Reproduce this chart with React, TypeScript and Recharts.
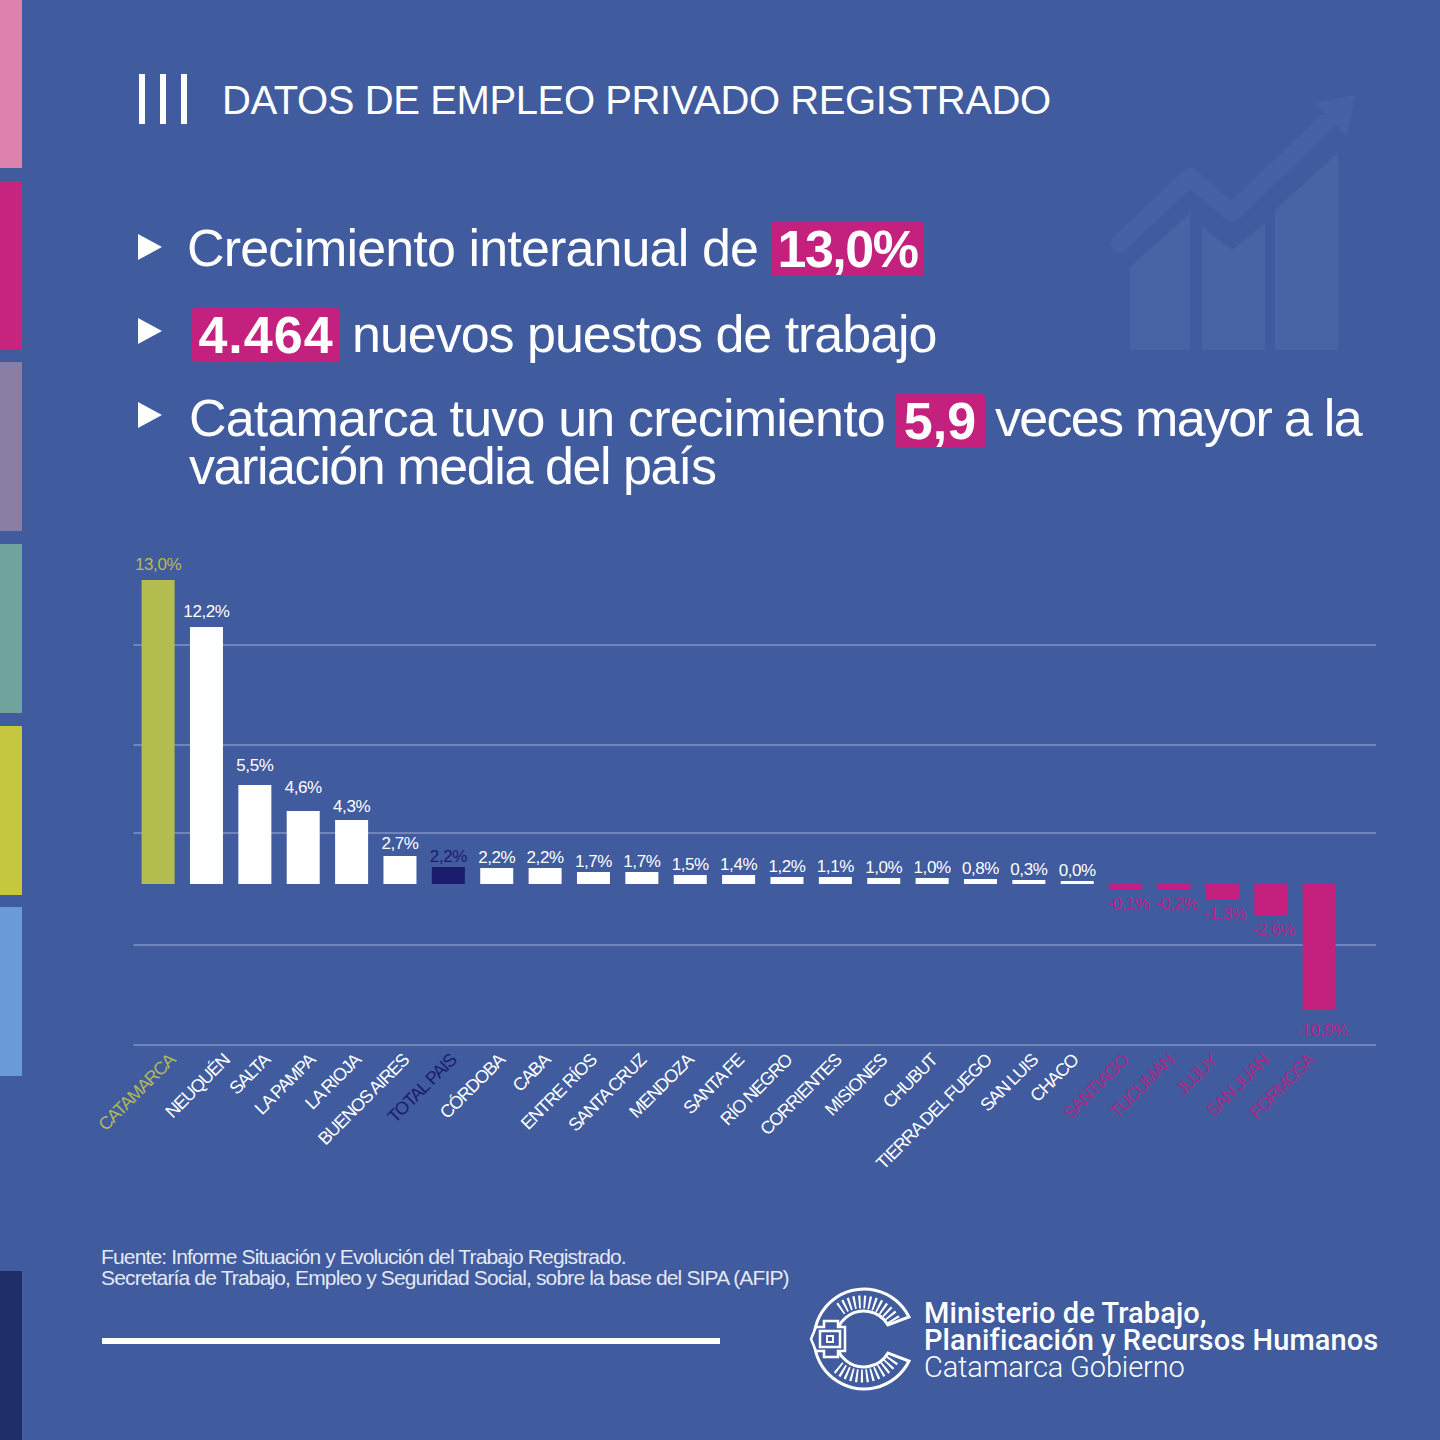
import React from 'react';
import { BarChart, Bar, XAxis, YAxis, CartesianGrid, Cell, LabelList } from 'recharts';

const provinces = [
  'CATAMARCA', 'NEUQUÉN', 'SALTA', 'LA PAMPA', 'LA RIOJA', 'BUENOS AIRES', 'TOTAL PAIS', 'CÓRDOBA', 'CABA',
  'ENTRE RÍOS', 'SANTA CRUZ', 'MENDOZA', 'SANTA FE', 'RÍO NEGRO', 'CORRIENTES', 'MISIONES', 'CHUBUT',
  'TIERRA DEL FUEGO', 'SAN LUIS', 'CHACO', 'SANTIAGO', 'TUCUMÁN', 'JUJUY', 'SAN JUAN', 'FORMOSA',
];
// printed percentages
const printedLabels = [
  '13,0%', '12,2%', '5,5%', '4,6%', '4,3%', '2,7%', '2,2%', '2,2%', '2,2%', '1,7%', '1,7%', '1,5%', '1,4%',
  '1,2%', '1,1%', '1,0%', '1,0%', '0,8%', '0,3%', '0,0%', '-0,1%', '-0,2%', '-1,3%', '-2,6%', '-10,9%',
];
// the original axis is not proportional to the labels, so the drawn heights are read off the picture
const drawnHeights = [304, 257, 99, 73, 64, 28, 17, 16, 16, 12, 12, 9, 9, 7, 7, 6, 6, 5, 4, 3, -5, -5, -15, -31, -126];
const gridLevels = [-161, -61, 51, 139, 239];

const BG = '#405b9e';
const GREEN = '#b4bd50';
const NAVY = '#1c1c6e';
const MAGENTA = '#c4207e';

const stripes = [
  ['#dd82ae', 0, 168], ['#c6247f', 181, 169], ['#8a7ea5', 362, 169], ['#6fa39c', 544, 169],
  ['#c5c83e', 726, 169], ['#6a9bd6', 907, 169], ['#1f2e66', 1271, 169],
] as const;

// the labels in the original were placed by hand, these are the x offsets of their ends
const tickNudge = [3, 9, 1, -2, -5, -5, -6, -6, -9, -11, -10, -11, -9, -9, -8, -11, -9, -3, -5, -13, -11, -14, -19, -16, -19];

const chartData = provinces.map((name, i) => ({ name, height: drawnHeights[i], label: printedLabels[i] }));

const colorAt = (i: number) => {
  if (i === 0) return GREEN;
  if (i === 6) return NAVY;
  return drawnHeights[i] < 0 ? MAGENTA : '#ffffff';
};

const ProvinceTick = (props: any) => {
  const { x, y, payload, index } = props;
  const fill = index === 0 ? '#b0b85a' : index === 6 ? NAVY : index >= 20 ? '#a92a86' : '#ffffff';
  const tx = x + 12 + tickNudge[index];
  return (
    <text
      x={tx} y={y + 5} transform={`rotate(-45 ${tx} ${y + 5})`} textAnchor="end" dominantBaseline="middle"
      fontFamily="Liberation Sans" fontSize={18} letterSpacing={-1.2} fill={fill}
    >
      {payload.value}
    </text>
  );
};

const ValueLabel = (props: any) => {
  const { x, y, width, height, index } = props;
  const neg = drawnHeights[index] < 0;
  const top = Math.min(y, y + height);
  const bottom = Math.max(y, y + height);
  let gap = 10;
  if (index === 2) gap = 14;
  if (index === 3) gap = 18;
  if (index === 4) gap = 8;
  if (index === 5) gap = 7;
  if (index > 5) gap = 5;
  return (
    <text
      x={x + width / 2 + (neg ? 3 : 0)} y={neg ? bottom + (index === 24 ? 26 : 20) : top - gap} textAnchor="middle"
      fontFamily="Liberation Sans" fontSize={17} letterSpacing={-0.4} fill={neg ? '#b5268a' : colorAt(index)}
    >
      {printedLabels[index]}
    </text>
  );
};

const Bullet = ({ top }: { top: number }) => (
  <svg style={{ position: 'absolute', left: 138, top }} width={26} height={30}>
    <polygon points="0,1 24,14 0,27" fill="#ffffff" />
  </svg>
);

const Chip = ({ children, left, top, width, spacing = -1.5 }: { children: string; left: number; top: number; width: number; spacing?: number }) => (
  <div style={{
    position: 'absolute', left, top, width, height: 54, background: MAGENTA, color: '#fff', borderRadius: 3,
    textAlign: 'center', fontWeight: 700, fontSize: 52, lineHeight: '54px', letterSpacing: spacing,
  }}>{children}</div>
);

const Line = ({ children, left, top, spacing }: { children: string; left: number; top: number; spacing: number }) => (
  <div style={{
    position: 'absolute', left, top, fontSize: 52, lineHeight: '54px', letterSpacing: spacing, whiteSpace: 'nowrap', color: '#fff',
  }}>{children}</div>
);

const Watermark = () => (
  <svg style={{ position: 'absolute', left: 0, top: 0 }} width={1440} height={400}>
    <g fill="#4864a5">
      <polygon points="1130,350 1130,267 1190,213 1190,350" />
      <polygon points="1202,350 1202,227 1232,250 1265,223 1265,350" />
      <polygon points="1275,350 1275,210 1338,153 1338,350" />
    </g>
    <polyline points="1120,243 1190,177 1232,213 1325,123" fill="none" stroke="#4662a4" strokeWidth={18} strokeLinejoin="round" strokeLinecap="round" />
    <polygon points="1355,95 1315,103 1347,137" fill="#4662a4" />
  </svg>
);

const Logo = () => (
  <svg style={{ position: 'absolute', left: 808, top: 1285 }} width={108} height={108} fill="none" stroke="#fff">
    <path d="M101 32 A50 50 0 1 0 101 76 L80 68 A28 28 0 1 1 80 40 Z" strokeWidth={3} />
    <path d="M86 35.5 A37 37 0 0 0 30 25.7" strokeWidth={13} strokeDasharray="2 3" />
    <path d="M30 82.3 A37 37 0 0 0 86 72.5" strokeWidth={13} strokeDasharray="2 3" />
    <polygon points="16,36 30,36 30,42 37,42 37,66 30,66 30,72 16,72 16,66 8,66 3,54 8,42 16,42" fill={BG} strokeWidth={2.5} />
    <rect x={12} y={46} width={20} height={16} strokeWidth={2.5} />
    <rect x={19} y={51} width={6} height={6} strokeWidth={2} />
  </svg>
);

export default function App() {
  return (
    <div style={{
      position: 'absolute', left: 0, top: 0, width: 1440, height: 1440, background: BG, overflow: 'hidden',
      fontFamily: 'Liberation Sans', color: '#fff',
    }}>
      {stripes.map(([color, top, h]) => (
        <div key={top} style={{ position: 'absolute', left: 0, top, width: 22, height: h, background: color }} />
      ))}
      <Watermark />

      {[139, 160, 181].map(left => (
        <div key={left} style={{ position: 'absolute', left, top: 74, width: 6, height: 50, background: '#fff' }} />
      ))}
      <div style={{ position: 'absolute', left: 222, top: 76, fontSize: 40, lineHeight: '48px', letterSpacing: -0.4, whiteSpace: 'nowrap' }}>
        DATOS DE EMPLEO PRIVADO REGISTRADO
      </div>

      <Bullet top={233} />
      <Line left={187} top={221} spacing={-0.86}>Crecimiento interanual de</Line>
      <Chip left={771} top={222} width={153}>13,0%</Chip>

      <Bullet top={317} />
      <Chip left={192} top={308} width={148} spacing={1}>4.464</Chip>
      <Line left={352} top={307} spacing={-1.02}>nuevos puestos de trabajo</Line>

      <Bullet top={401} />
      <Line left={189} top={391} spacing={-0.82}>Catamarca tuvo un crecimiento</Line>
      <Chip left={895} top={394} width={90} spacing={0}>5,9</Chip>
      <Line left={995} top={391} spacing={-1.7}>veces mayor a la</Line>
      <Line left={189} top={439} spacing={-1.42}>variación media del país</Line>

      <div style={{ position: 'absolute', left: 0, top: 540 }}>
        <BarChart
          width={1440} height={640} data={chartData} barCategoryGap={0}
          margin={{ top: 10, right: 64, bottom: 0, left: 133.6 }}
        >
          <CartesianGrid vertical={false} syncWithTicks stroke="#7f93c4" strokeWidth={1.5} />
          <YAxis hide type="number" domain={[-161, 334]} ticks={gridLevels} interval={0} />
          <XAxis
            dataKey="name" interval={0} axisLine={false} tickLine={false} orientation="bottom"
            padding={{ left: 0, right: 33 }} tick={<ProvinceTick />} height={135}
          />
          <Bar dataKey="height" barSize={33} isAnimationActive={false}>
            {chartData.map((d, i) => <Cell key={d.name} fill={colorAt(i)} />)}
            <LabelList dataKey="label" content={<ValueLabel />} />
          </Bar>
        </BarChart>
      </div>

      <div style={{ position: 'absolute', left: 101, top: 1246, fontSize: 21, lineHeight: '21px', letterSpacing: -0.85, whiteSpace: 'nowrap', color: '#e4e8f3' }}>
        Fuente: Informe Situación y Evolución del Trabajo Registrado.<br />
        Secretaría de Trabajo, Empleo y Seguridad Social, sobre la base del SIPA (AFIP)
      </div>
      <div style={{ position: 'absolute', left: 102, top: 1338, width: 618, height: 6, background: '#fff' }} />

      <Logo />
      <div style={{ position: 'absolute', left: 924, top: 1300, fontSize: 29, lineHeight: '27px', letterSpacing: 0.1, whiteSpace: 'nowrap', fontFamily: 'Roboto', fontWeight: 500 }}>
        Ministerio de Trabajo,<br />Planificación y Recursos Humanos
        <div style={{ fontWeight: 300, letterSpacing: -0.15 }}>Catamarca Gobierno</div>
      </div>
    </div>
  );
}
